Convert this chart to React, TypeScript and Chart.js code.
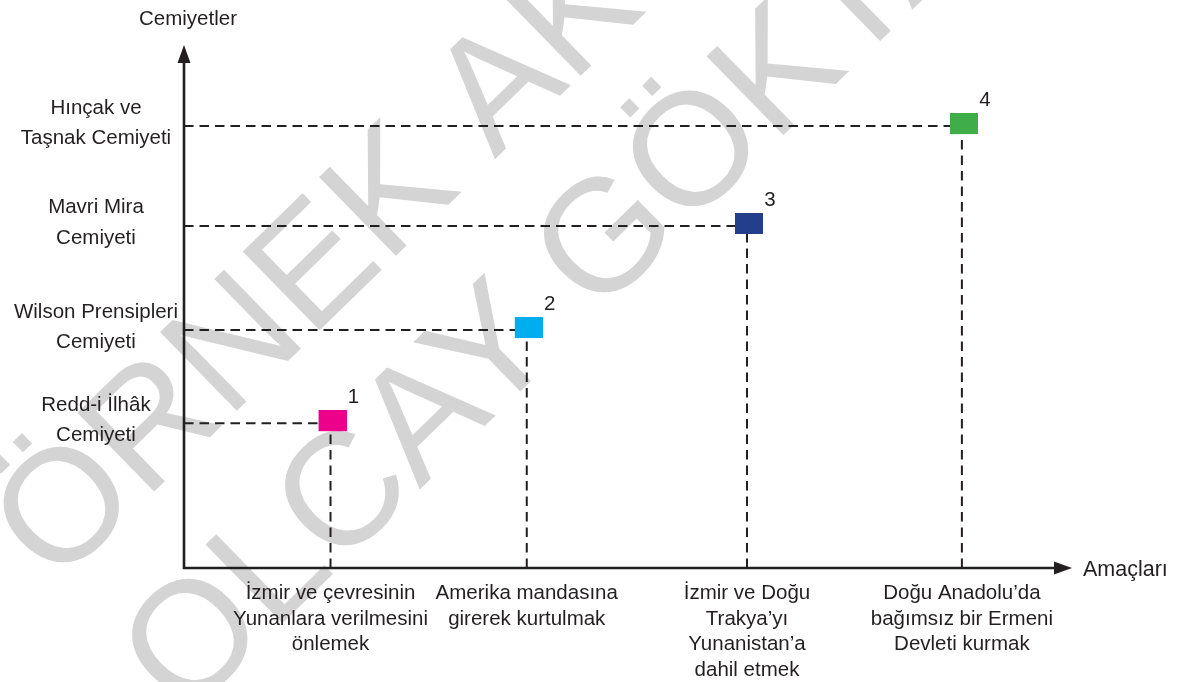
import { useEffect, useRef } from "react";
import { Chart, registerables } from "chart.js";

Chart.register(...registerables);

// ---- data ----
const categories: string[][] = [
  ["İzmir ve çevresinin", "Yunanlara verilmesini", "önlemek"],
  ["Amerika mandasına", "girerek kurtulmak"],
  ["İzmir ve Doğu", "Trakya’yı", "Yunanistan’a", "dahil etmek"],
  ["Doğu Anadolu’da", "bağımsız bir Ermeni", "Devleti kurmak"],
];
const societies: string[][] = [
  ["Redd-i İlhâk", "Cemiyeti"],
  ["Wilson Prensipleri", "Cemiyeti"],
  ["Mavri Mira", "Cemiyeti"],
  ["Hınçak ve", "Taşnak Cemiyeti"],
];
const xValues = [1.65, 3.86, 6.34, 8.76];
const yValues = [2.77, 4.55, 6.54, 8.45];
const pointNumbers = ["1", "2", "3", "4"];
const pointColors = ["#ec008c", "#00aeef", "#233e8b", "#3fae49"];
const watermarkLines = ["ÖRNEK AKTİVİTE", "OLCAY GÖKTAŞ"];
const xAxisTitle = "Amaçları";
const yAxisTitle = "Cemiyetler";

const FONT = '"Liberation Sans", Arial, Helvetica, sans-serif';
const INK = "#231f20";

// square marker (28x21), sitting slightly up-right of the point
function makeBox(color: string): HTMLCanvasElement {
  const c = document.createElement("canvas");
  c.width = 32;
  c.height = 26;
  const g = c.getContext("2d")!;
  g.fillStyle = color;
  g.fillRect(4, 0, 28, 21);
  return c;
}

const decor = {
  id: "decor",
  beforeDraw(chart: any) {
    const { ctx, width, height } = chart;
    ctx.save();
    ctx.fillStyle = "#ffffff";
    ctx.fillRect(0, 0, width, height);
    ctx.translate(55.5, 587.6);
    ctx.rotate((-44.26 * Math.PI) / 180);
    ctx.font = `160px ${FONT}`;
    ctx.fillStyle = "#d4d4d4";
    ctx.textAlign = "left";
    ctx.textBaseline = "alphabetic";
    watermarkLines.forEach((t, i) => ctx.fillText(t, 0, i * 184));
    ctx.restore();
  },
  beforeDatasetsDraw(chart: any) {
    const { ctx, chartArea } = chart;
    const { left, top, right, bottom } = chartArea;
    const xs = chart.scales.x;
    const ys = chart.scales.y;
    ctx.save();
    ctx.strokeStyle = INK;
    ctx.lineWidth = 2;
    ctx.setLineDash([9.5, 6]);
    xValues.forEach((v, i) => {
      const px = xs.getPixelForValue(v);
      const py = ys.getPixelForValue(yValues[i]);
      ctx.beginPath();
      ctx.moveTo(left, py);
      ctx.lineTo(px, py);
      ctx.stroke();
      ctx.beginPath();
      ctx.moveTo(px, bottom);
      ctx.lineTo(px, py);
      ctx.stroke();
    });
    ctx.setLineDash([]);
    ctx.lineWidth = 2.6;
    ctx.lineJoin = "miter";
    ctx.beginPath();
    ctx.moveTo(left, top + 14);
    ctx.lineTo(left, bottom);
    ctx.lineTo(right - 14, bottom);
    ctx.stroke();
    ctx.fillStyle = INK;
    ctx.beginPath();
    ctx.moveTo(left, top);
    ctx.lineTo(left - 6.5, top + 18);
    ctx.lineTo(left + 6.5, top + 18);
    ctx.closePath();
    ctx.fill();
    ctx.beginPath();
    ctx.moveTo(right, bottom);
    ctx.lineTo(right - 18, bottom - 6.5);
    ctx.lineTo(right - 18, bottom + 6.5);
    ctx.closePath();
    ctx.fill();
    ctx.restore();
  },
  afterDatasetsDraw(chart: any) {
    const { ctx, chartArea } = chart;
    const { left, top, right, bottom } = chartArea;
    const meta = chart.getDatasetMeta(0);
    ctx.save();
    ctx.fillStyle = INK;
    ctx.font = `20.5px ${FONT}`;
    ctx.textAlign = "center";
    ctx.textBaseline = "middle";
    meta.data.forEach((el: any, i: number) => {
      ctx.fillText(pointNumbers[i], el.x + 23, el.y - 26);
    });
    ctx.textAlign = "center";
    ctx.textBaseline = "alphabetic";
    ctx.fillText(yAxisTitle, left + 4, top - 20);
    ctx.textAlign = "left";
    ctx.textBaseline = "middle";
    ctx.font = `21.5px ${FONT}`;
    ctx.fillText(xAxisTitle, right + 11, bottom + 2);
    ctx.restore();
  },
};

export default function App() {
  const ref = useRef<HTMLCanvasElement | null>(null);
  useEffect(() => {
    if (!ref.current) return;
    const chart = new Chart(ref.current, {
      type: "scatter",
      data: {
        datasets: [
          {
            data: xValues.map((x, i) => ({ x, y: yValues[i] })),
            pointStyle: pointColors.map(makeBox) as any,
            pointRadius: 14,
            pointHoverRadius: 14,
            backgroundColor: pointColors,
            borderWidth: 0,
          },
        ],
      },
      options: {
        animation: false,
        responsive: false,
        events: [],
        layout: { padding: { left: 0, top: 45, right: 105, bottom: 0 } },
        plugins: { legend: { display: false }, tooltip: { enabled: false }, title: { display: false } },
        scales: {
          x: {
            type: "linear",
            min: 0,
            max: 10,
            grid: { display: false, drawTicks: false },
            border: { display: false },
            afterBuildTicks: (s: any) => {
              s.ticks = xValues.map((v) => ({ value: v }));
            },
            afterFit: (s: any) => {
              s.height = 114;
            },
            ticks: {
              autoSkip: false,
              maxRotation: 0,
              minRotation: 0,
              padding: 13,
              color: INK,
              font: { family: FONT, size: 20.5, lineHeight: 1.244 },
              callback: (_v: any, i: number) => categories[i],
            },
          },
          y: {
            type: "linear",
            min: 0,
            max: 10,
            grid: { display: false, drawTicks: false },
            border: { display: false },
            afterBuildTicks: (s: any) => {
              s.ticks = yValues.map((v) => ({ value: v }));
            },
            afterFit: (s: any) => {
              s.width = 184;
            },
            ticks: {
              autoSkip: false,
              padding: 6,
              crossAlign: "center",
              labelOffset: -3,
              color: INK,
              font: { family: FONT, size: 20.5, lineHeight: 1.48 },
              callback: (_v: any, i: number) => societies[i],
            },
          },
        },
      },
      plugins: [decor],
    });
    return () => chart.destroy();
  }, []);
  return (
    <div style={{ position: "absolute", left: 0, top: 0, width: 1177, height: 682 }}>
      <canvas ref={ref} width={1177} height={682} />
    </div>
  );
}
